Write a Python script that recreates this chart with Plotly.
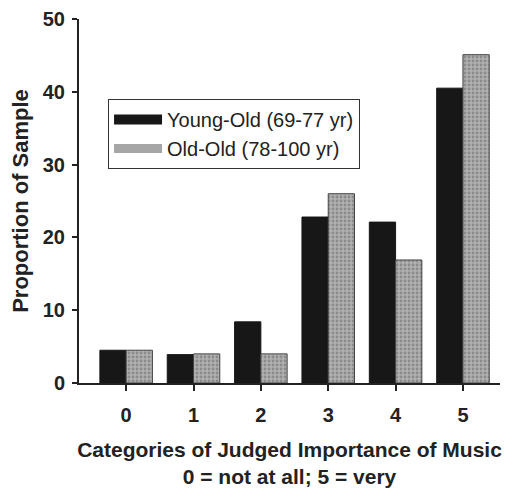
import plotly.graph_objects as go

categories = ["0", "1", "2", "3", "4", "5"]
young_old = [4.5, 3.9, 8.4, 22.8, 22.1, 40.5]
old_old = [4.5, 4.0, 4.0, 26.0, 16.9, 45.1]
series_names = ["Young-Old (69-77 yr)", "Old-Old (78-100 yr)"]
y_ticks = [0, 10, 20, 30, 40, 50]

xpos = list(range(len(categories)))
black = "#171717"
gray_bg = "#b0b0b0"
gray_fg = "#666666"

fig = go.Figure()
fig.add_trace(go.Bar(
    x=xpos, y=young_old, name=series_names[0], showlegend=False, legendgroup="a",
    marker=dict(color=black, line=dict(color=black, width=1)),
))
fig.add_trace(go.Bar(
    x=xpos, y=old_old, name=series_names[1], showlegend=False, legendgroup="b",
    marker=dict(color=gray_bg, line=dict(color="#444444", width=1),
                pattern=dict(shape=".", fgcolor=gray_fg, bgcolor=gray_bg,
                             size=4, solidity=0.4, fillmode="overlay")),
))
# legend-only entries with wide rectangular swatches
fig.add_trace(go.Scatter(x=[None], y=[None], mode="lines", name=series_names[0],
                         legendgroup="a", line=dict(color=black, width=10)))
fig.add_trace(go.Scatter(x=[None], y=[None], mode="lines", name=series_names[1],
                         legendgroup="b", line=dict(color="#a6a6a6", width=9)))

font_family = "Liberation Sans, Arial, sans-serif"
# page body has an 8px default margin, so the figure is sized to fit the window
fig.update_layout(
    width=505, height=491,
    margin=dict(l=71, r=13, t=11, b=116),
    paper_bgcolor="white", plot_bgcolor="white",
    barmode="group", bargap=0.22, bargroupgap=0,
    font=dict(family=font_family, color="#222222"),
    showlegend=True,
    legend=dict(
        x=0.069, y=0.78, xanchor="left", yanchor="top",
        bordercolor="#333333", borderwidth=1, bgcolor="white",
        font=dict(size=20, color="#222222"),
        tracegroupgap=0, traceorder="normal", itemwidth=48,
    ),
    xaxis=dict(
        range=[-0.70, 5.55], automargin=False,
        tickmode="array", tickvals=xpos, ticktext=categories,
        showline=True, linecolor="#222222", linewidth=2,
        ticks="outside", ticklen=6, tickwidth=2, tickcolor="#222222",
        ticklabelstandoff=7,
        tickfont=dict(size=20, color="#222222", family=font_family, weight="bold"),
        showgrid=False, zeroline=False,
        title=dict(text="<b>Categories of Judged Importance of Music<br>0 = not at all; 5 = very</b>",
                   font=dict(size=21, color="#222222"), standoff=17),
    ),
    yaxis=dict(
        range=[0, 50], automargin=False,
        tickmode="array", tickvals=y_ticks,
        showline=True, linecolor="#222222", linewidth=2,
        ticks="outside", ticklen=5, tickwidth=2, tickcolor="#222222",
        ticklabelstandoff=3,
        tickfont=dict(size=20, color="#222222", family=font_family, weight="bold"),
        showgrid=False, zeroline=False,
        title=dict(text="<b>Proportion of Sample</b>", font=dict(size=22, color="#222222"), standoff=11),
    ),
)

fig.write_html("out.html")
